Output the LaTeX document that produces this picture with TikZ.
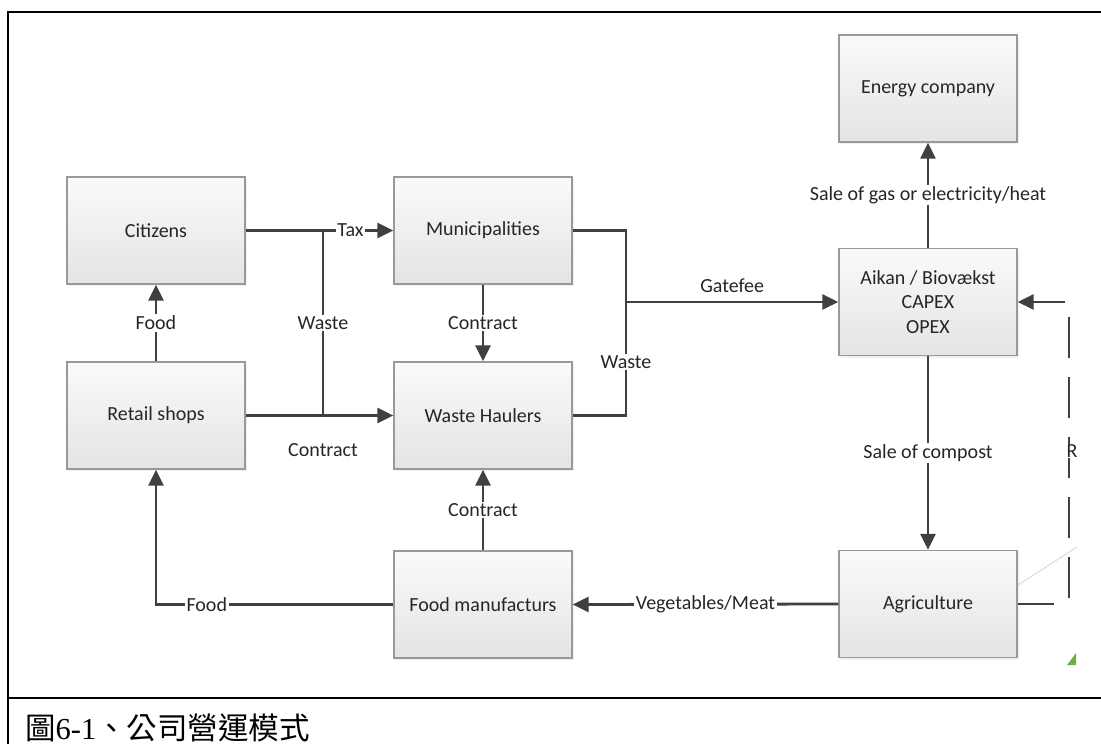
\documentclass[tikz,border=0pt]{standalone}
\usepackage{fontspec}
\setmainfont{Carlito}
\newfontfamily\cjkfont{Noto Sans CJK TC}
\newfontfamily\serifdig{Liberation Serif}
\usetikzlibrary{arrows.meta,shadows}
\definecolor{linec}{HTML}{404040}
\definecolor{boxborder}{HTML}{999999}
\definecolor{boxtop}{HTML}{FAFAFA}
\definecolor{boxbot}{HTML}{E4E4E4}
\definecolor{leafgreen}{HTML}{70AD47}
\definecolor{thingray}{HTML}{D4D4D4}
\begin{document}
\begin{tikzpicture}[x=1pt,y=-1pt,
  stepbox/.style={draw=boxborder, line width=1.3pt, top color=boxtop, bottom color=boxbot,
    minimum width=178pt, minimum height=107pt, inner sep=0pt, align=center,
    font=\fontsize{20}{24.5}\selectfont, text=black!85,
    drop shadow={opacity=0.12, shadow xshift=2pt, shadow yshift=-2pt}},
  conn/.style={draw=linec, line width=2.8pt, -{Triangle[length=16pt,width=15pt]}},
  plain/.style={draw=linec, line width=2.8pt},
  lbl/.style={fill=white, inner sep=1.5pt, font=\fontsize{20}{24}\selectfont, text=black!85},
  freelbl/.style={inner sep=1.5pt, font=\fontsize{20}{24}\selectfont, text=black!85},
  frame/.style={draw=black, line width=2pt}]
\useasboundingbox (0,0) rectangle (1101,744);

% frame
\draw[frame] (8,744) -- (8,12) -- (1101,12);
\draw[frame] (8,698) -- (1101,698);

% boxes
\node[stepbox] (cit) at (156,230.5) {Citizens};
\node[stepbox] (ret) at (156,415.5) {Retail shops};
\node[stepbox] (mun) at (483,230.5) {Municipalities};
\node[stepbox] (wh)  at (483,415.5) {Waste Haulers};
\node[stepbox] (fm)  at (483,604.5) {Food manufacturs};
\node[stepbox] (en)  at (928,88.5) {Energy company};
\node[stepbox] (aik) at (928,302) {Aikan / Biovækst\\CAPEX\\OPEX};
\node[stepbox] (agr) at (928,604) {Agriculture};

% coordinates
\coordinate (j1) at (323,230.5);
\coordinate (j2) at (323,415.5);
\coordinate (j3) at (626,230.5);
\coordinate (j4) at (626,415.5);
\coordinate (j5) at (626,302);
\coordinate (c1) at (156,604.5);
\coordinate (rin) at (1065,302);
\coordinate (rout) at (1054,604);
\coordinate (dtop) at (1069,317);
\coordinate (dbot) at (1069,598);
\coordinate (g1) at (1018,585);
\coordinate (g2) at (1077,547);

% connectors
\draw[plain] (j1) -- node[lbl] {Waste} (j2);
\draw[conn] (cit.east) -- node[lbl, pos=0.71] {Tax} (mun.west);
\draw[conn] (ret.east) -- (wh.west);
\node[freelbl] (lcon) at (323,450) {Contract};
\draw[conn] (ret.north) -- node[lbl] {Food} (cit.south);
\draw[conn] (mun.south) -- node[lbl] {Contract} (wh.north);
\draw[plain] (mun.east) -- (j3) -- node[lbl, pos=0.71] {Waste} (j4) -- (wh.east);
\draw[conn] (j5) -- node[freelbl, above=6pt] {Gatefee} (aik.west);
\draw[conn] (aik.north) -- node[lbl] {Sale of gas or electricity/heat} (en.south);
\draw[conn] (aik.south) -- node[lbl] {Sale of compost} (agr.north);
\draw[conn] (agr.west) -- node[lbl] {Vegetables/Meat} (fm.east);
\draw[conn] (fm.west) -- node[lbl, pos=0.786] {Food} (c1) -- (ret.south);
\draw[conn] (fm.north) -- node[lbl] {Contract} (wh.south);

% right side (cut off)
\draw[draw=thingray, line width=0.8pt] (g1) -- (g2);
\draw[conn] (rin) -- (aik.east);
\draw[plain] (agr.east) -- (rout);
\draw[draw=linec, line width=2.8pt, dash pattern=on 41pt off 19pt] (dtop) -- (dbot);
\node[lbl, anchor=west, inner sep=0.5pt] (rl) at (1066,451) {R};
\fill[leafgreen] (1076,653) -- (1076,665) -- (1067,665) -- cycle;

% caption
\node[anchor=base west, inner sep=0pt, font=\fontsize{30.5}{30.5}\selectfont] (cap) at (25,739)
  {\cjkfont 圖\serifdig 6-1\cjkfont 、公司營運模式};
\end{tikzpicture}
\end{document}
